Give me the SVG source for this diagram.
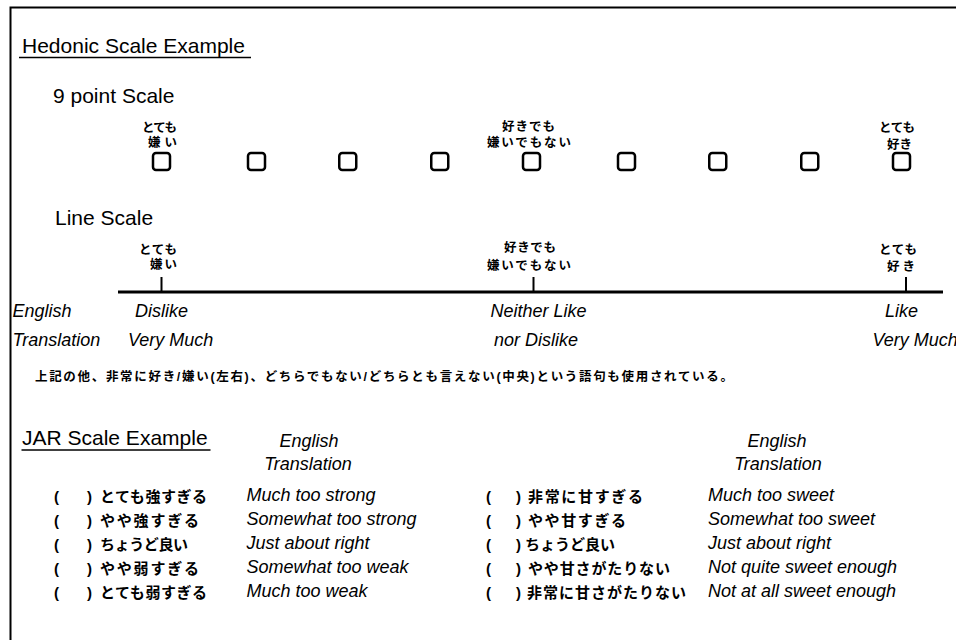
<svg xmlns="http://www.w3.org/2000/svg" width="956" height="640" viewBox="0 0 956 640">
<style>
  text { font-family: "Liberation Sans", Arial, sans-serif; fill: #000; }
  .h { font-size: 21px; }
  .i { font-size: 18px; font-style: italic; }
  .j { font-family: "Liberation Sans", "Noto Sans CJK JP", sans-serif; font-weight: bold; font-size: 12.5px; }
  .js { font-family: "Liberation Sans", "Noto Sans CJK JP", sans-serif; font-weight: bold; font-size: 12.5px; }
  .jl { font-family: "Liberation Sans", "Noto Sans CJK JP", sans-serif; font-weight: bold; font-size: 15px; }
  .p { font-weight: bold; font-size: 15px; }
  .box { fill: none; stroke: #000; stroke-width: 2.5; }
  .ul { stroke: #000; stroke-width: 1.5; }
  .mid { text-anchor: middle; }
</style>
<rect width="956" height="640" fill="#fff"/>
<path d="M10.5 640 V7.5 H956" fill="none" stroke="#000" stroke-width="2"/>

<g id="hedonic-title">
  <text class="h" x="22" y="53">Hedonic Scale Example</text>
  <line class="ul" x1="19" y1="57.5" x2="251" y2="57.5"/>
</g>

<g id="nine-point-scale">
  <text class="h" x="53" y="103">9 point Scale</text>
  <text class="j" x="142" y="132" textLength="35">とても</text>
  <text class="j" x="148" y="147" textLength="29">嫌い</text>
  <text class="j" x="502" y="131" textLength="53">好きでも</text>
  <text class="j" x="487" y="147" textLength="84">嫌いでもない</text>
  <text class="j" x="879" y="132" textLength="36">とても</text>
  <text class="j" x="887" y="149" textLength="25">好き</text>
  <rect class="box" x="153" y="153" width="17" height="17" rx="3"/>
  <rect class="box" x="248" y="153" width="17" height="17" rx="3"/>
  <rect class="box" x="339.25" y="153" width="17" height="17" rx="3"/>
  <rect class="box" x="431.25" y="153" width="17" height="17" rx="3"/>
  <rect class="box" x="523" y="153" width="17" height="17" rx="3"/>
  <rect class="box" x="618" y="153" width="17" height="17" rx="3"/>
  <rect class="box" x="709.25" y="153" width="17" height="17" rx="3"/>
  <rect class="box" x="801.25" y="153" width="17" height="17" rx="3"/>
  <rect class="box" x="893" y="153" width="17" height="17" rx="3"/>
</g>

<g id="line-scale">
  <text class="h" x="55" y="225">Line Scale</text>
  <text class="j" x="139" y="254" textLength="38">とても</text>
  <text class="j" x="150" y="269" textLength="27">嫌い</text>
  <text class="j" x="504" y="252" textLength="52">好きでも</text>
  <text class="j" x="487" y="270" textLength="84">嫌いでもない</text>
  <text class="j" x="879" y="254" textLength="38">とても</text>
  <text class="j" x="887" y="271" textLength="28">好き</text>
</g>

<g id="connectors">
  <line x1="118" y1="292" x2="943" y2="292" stroke="#000" stroke-width="3"/>
  <line x1="161.5" y1="277" x2="161.5" y2="292" stroke="#000" stroke-width="2"/>
  <line x1="533.5" y1="277" x2="533.5" y2="292" stroke="#000" stroke-width="2"/>
  <line x1="906" y1="277" x2="906" y2="292" stroke="#000" stroke-width="2"/>
</g>

<g id="line-scale-english">
  <text class="i" x="12.5" y="317">English</text>
  <text class="i" x="12.5" y="346">Translation</text>
  <text class="i" x="135" y="317">Dislike</text>
  <text class="i" x="128" y="346">Very Much</text>
  <text class="i" x="490.5" y="317">Neither Like</text>
  <text class="i" x="494" y="346">nor Dislike</text>
  <text class="i" x="885" y="317">Like</text>
  <text class="i" x="872.5" y="346">Very Much</text>
</g>

<g id="note">
  <text class="js" x="35" y="381" textLength="698">上記の他、非常に好き/嫌い(左右)、どちらでもない/どちらとも言えない(中央)という語句も使用されている。</text>
</g>

<g id="jar-title">
  <text class="h" x="22" y="445">JAR Scale Example</text>
  <line class="ul" x1="21.5" y1="450" x2="210.5" y2="450"/>
</g>

<g id="jar-strength">
  <text class="i mid" x="309" y="447">English</text>
  <text class="i mid" x="308" y="470">Translation</text>
  <text class="p" x="54" y="502">(</text><text class="p" x="87" y="502">)</text>
  <text class="p" x="54" y="526">(</text><text class="p" x="87" y="526">)</text>
  <text class="p" x="54" y="550">(</text><text class="p" x="87" y="550">)</text>
  <text class="p" x="54" y="574">(</text><text class="p" x="87" y="574">)</text>
  <text class="p" x="54" y="598">(</text><text class="p" x="87" y="598">)</text>
  <text class="jl" x="100" y="502" textLength="107">とても強すぎる</text>
  <text class="jl" x="100" y="526" textLength="99">やや強すぎる</text>
  <text class="jl" x="100" y="550" textLength="88">ちょうど良い</text>
  <text class="jl" x="100" y="574" textLength="99">やや弱すぎる</text>
  <text class="jl" x="100" y="598" textLength="107">とても弱すぎる</text>
  <text class="i" x="246.5" y="501">Much too strong</text>
  <text class="i" x="246.5" y="525">Somewhat too strong</text>
  <text class="i" x="246.5" y="549">Just about right</text>
  <text class="i" x="246.5" y="573">Somewhat too weak</text>
  <text class="i" x="246.5" y="597">Much too weak</text>
</g>

<g id="jar-sweetness">
  <text class="i mid" x="777" y="447">English</text>
  <text class="i mid" x="778" y="470">Translation</text>
  <text class="p" x="486" y="502">(</text><text class="p" x="516" y="502">)</text>
  <text class="p" x="486" y="526">(</text><text class="p" x="516" y="526">)</text>
  <text class="p" x="486" y="550">(</text><text class="p" x="516" y="550">)</text>
  <text class="p" x="486" y="574">(</text><text class="p" x="516" y="574">)</text>
  <text class="p" x="486" y="598">(</text><text class="p" x="516" y="598">)</text>
  <text class="jl" x="528" y="502" textLength="115">非常に甘すぎる</text>
  <text class="jl" x="528" y="526" textLength="98">やや甘すぎる</text>
  <text class="jl" x="525" y="550" textLength="90">ちょうど良い</text>
  <text class="jl" x="528" y="574" textLength="142">やや甘さがたりない</text>
  <text class="jl" x="527" y="598" textLength="159">非常に甘さがたりない</text>
  <text class="i" x="708" y="501">Much too sweet</text>
  <text class="i" x="708" y="525">Somewhat too sweet</text>
  <text class="i" x="708" y="549">Just about right</text>
  <text class="i" x="708" y="573">Not quite sweet enough</text>
  <text class="i" x="708" y="597">Not at all sweet enough</text>
</g>
</svg>
